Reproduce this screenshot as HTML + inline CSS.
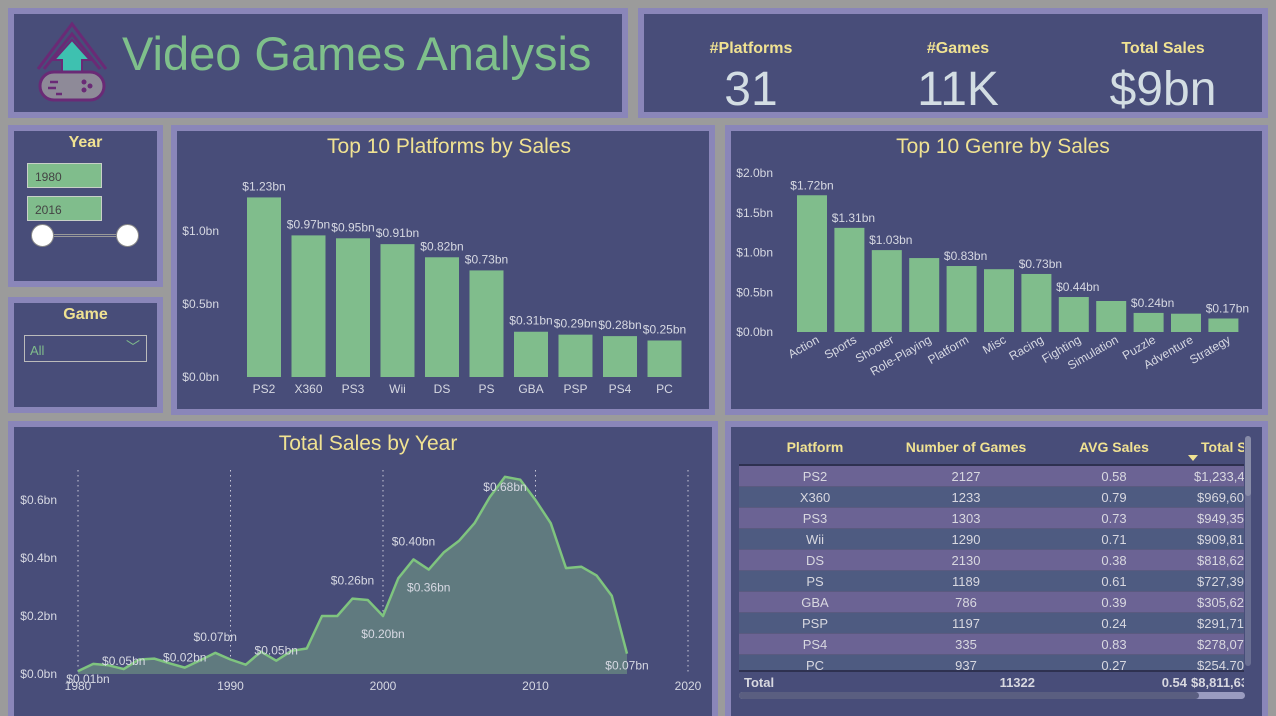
<!DOCTYPE html>
<html><head><meta charset="utf-8">
<style>
*{margin:0;padding:0;box-sizing:border-box}
body{width:1276px;height:716px;background:#9b9b9b;position:relative;overflow:hidden;font-family:"Liberation Sans",sans-serif}
.p{position:absolute;background:#8a86b9}
.in{position:absolute;left:6px;top:6px;right:6px;bottom:6px;background:#484d79}
.t{position:absolute;color:#f0e292;text-align:center;white-space:nowrap}
svg text{font-family:"Liberation Sans",sans-serif}
</style></head><body>
<div class="p" style="left:8px;top:8px;width:620px;height:110px"><div class="in">
<svg width="100" height="100" style="position:absolute;left:20px;top:0">
<path d="M4 55 L38 10 L72 55" fill="none" stroke="#6a2a76" stroke-width="3"/>
<path d="M10 55 L38 20 L66 55" fill="none" stroke="#6a2a76" stroke-width="3"/>
<path d="M38 26 L56 46 L48 46 L48 58 L28 58 L28 46 L20 46 Z" fill="#3ec1b0" stroke="#6a2a76" stroke-width="2"/>
<rect x="6" y="58" width="64" height="28" rx="14" fill="#8e8a98" stroke="#6a2a76" stroke-width="3"/>
<circle cx="56" cy="72" r="2.5" fill="#6a2a76"/><circle cx="50" cy="68" r="2.5" fill="#6a2a76"/><circle cx="50" cy="76" r="2.5" fill="#6a2a76"/>
<path d="M16 68h8M14 74h8M22 80h6" stroke="#6a2a76" stroke-width="2.5"/>
</svg>
<div style="position:absolute;left:108px;top:12px;font-size:47px;color:#7fc08b">Video Games Analysis</div>
</div></div>

<div class="p" style="left:638px;top:8px;width:630px;height:110px"><div class="in">
<div class="t" style="left:47px;width:120px;top:26px;font-size:16px;font-weight:bold">#Platforms</div>
<div class="t" style="left:47px;width:120px;top:48px;font-size:48px;color:#d3dde3">31</div>
<div class="t" style="left:254px;width:120px;top:26px;font-size:16px;font-weight:bold">#Games</div>
<div class="t" style="left:234px;width:160px;top:48px;font-size:48px;color:#d3dde3">11K</div>
<div class="t" style="left:449px;width:140px;top:26px;font-size:16px;font-weight:bold">Total Sales</div>
<div class="t" style="left:439px;width:160px;top:48px;font-size:48px;color:#d3dde3">$9bn</div>
</div></div>

<div class="p" style="left:8px;top:125px;width:155px;height:162px"><div class="in">
<div class="t" style="left:0;right:0;top:3px;font-size:16px;font-weight:bold">Year</div>
<div style="position:absolute;left:13px;top:32px;width:75px;height:25px;background:#80bd8c;border:1px solid #c8d0c8;font-size:12px;color:#444;padding:6px 7px">1980</div>
<div style="position:absolute;left:13px;top:65px;width:75px;height:25px;background:#80bd8c;border:1px solid #c8d0c8;font-size:12px;color:#444;padding:6px 7px">2016</div>
<div style="position:absolute;left:30px;top:103px;width:80px;height:3px;border-top:1px solid #999;border-bottom:1px solid #999"></div>
<div style="position:absolute;left:17px;top:93px;width:23px;height:23px;border-radius:50%;background:#fff;border:1px solid #888"></div>
<div style="position:absolute;left:102px;top:93px;width:23px;height:23px;border-radius:50%;background:#fff;border:1px solid #888"></div>
</div></div>

<div class="p" style="left:8px;top:297px;width:155px;height:116px"><div class="in">
<div class="t" style="left:0;right:0;top:3px;font-size:16px;font-weight:bold">Game</div>
<div style="position:absolute;left:10px;top:32px;width:123px;height:27px;border:1px solid #bbb;color:#80bd8c;font-size:13px;padding:7px 5px">All<span style="position:absolute;right:6px;top:1px;font-size:14px">﹀</span></div>
</div></div>

<div class="p" style="left:171px;top:125px;width:544px;height:290px"><div class="in"></div></div>
<div class="p" style="left:725px;top:125px;width:543px;height:290px"><div class="in"></div></div>
<div class="p" style="left:8px;top:421px;width:710px;height:295px"><div class="in" style="bottom:0"></div></div>
<div class="p" style="left:725px;top:421px;width:543px;height:295px"><div class="in" style="bottom:0"></div></div>

<svg id="charts" width="1276" height="716" style="position:absolute;left:0;top:0"></svg>

<div style="position:absolute;left:739px;top:430px;width:505px;height:260px;overflow:hidden;font-size:13px;color:#d8d8e0">
<div id="thead" style="position:absolute;left:0;top:0;width:560px;height:36px;border-bottom:2px solid #2e3150;color:#f0e292;font-weight:bold;font-size:14px"></div>
<div id="tbody" style="position:absolute;left:0;top:36px;width:560px;height:204px;overflow:hidden"></div>
<div id="tfoot" style="position:absolute;left:0;top:240px;width:560px;height:22px;border-top:2px solid #2e3150;font-weight:bold"></div>
</div>
<div style="position:absolute;left:1245px;top:436px;width:6px;height:230px;background:#6a6f93;border-radius:3px"><div style="height:60px;background:#888ca8;border-radius:3px"></div></div>
<div style="position:absolute;left:739px;top:692px;width:506px;height:7px;background:#9a9cc0;border-radius:4px"><div style="width:460px;height:7px;background:#5a5e80;border-radius:4px"></div></div>

<script>
const NS='http://www.w3.org/2000/svg';
const svg=document.getElementById('charts');
function el(tag,attrs,parent,txt){const e=document.createElementNS(NS,tag);for(const k in attrs)e.setAttribute(k,attrs[k]);if(txt!==undefined)e.textContent=txt;(parent||svg).appendChild(e);return e;}

// Platforms data
const platCats=['PS2','X360','PS3','Wii','DS','PS','GBA','PSP','PS4','PC'];
const platVals=[1.23,0.97,0.95,0.91,0.82,0.73,0.31,0.29,0.28,0.25];
const platTicks=[0,0.5,1.0];
// Genre data
const genreCats=['Action','Sports','Shooter','Role-Playing','Platform','Misc','Racing','Fighting','Simulation','Puzzle','Adventure','Strategy'];
const genreVals=[1.72,1.31,1.03,0.93,0.83,0.79,0.73,0.44,0.39,0.24,0.23,0.17];
const genreLabels=['$1.72bn','$1.31bn','$1.03bn','','$0.83bn','','$0.73bn','$0.44bn','','$0.24bn','','$0.17bn'];
const genreTicks=[0,0.5,1.0,1.5,2.0];
// Yearly data
const years=[1980,1981,1982,1983,1984,1985,1986,1987,1988,1989,1990,1991,1992,1993,1994,1995,1996,1997,1998,1999,2000,2001,2002,2003,2004,2005,2006,2007,2008,2009,2010,2011,2012,2013,2014,2015,2016];
const yearVals=[0.01,0.035,0.03,0.017,0.05,0.053,0.037,0.022,0.047,0.073,0.05,0.032,0.077,0.046,0.08,0.088,0.20,0.20,0.26,0.255,0.20,0.33,0.395,0.36,0.42,0.46,0.52,0.61,0.68,0.67,0.60,0.52,0.365,0.37,0.34,0.27,0.07];
const yearLabelIdx=[0,3,7,9,13,18,20,22,23,28,36];
const yearLabelTxt=['$0.01bn','$0.05bn','$0.02bn','$0.07bn','$0.05bn','$0.26bn','$0.20bn','$0.40bn','$0.36bn','$0.68bn','$0.07bn'];
const yearLabelDy=[12,0,-2,-8,-2,-10,22,-10,22,14,16];
const yearTicksY=[0,0.2,0.4,0.6];
const yearTicksX=[1980,1990,2000,2010,2020];
// Table data
const tPlat=['PS2','X360','PS3','Wii','DS','PS','GBA','PSP','PS4','PC'];
const tGames=[2127,1233,1303,1290,2130,1189,786,1197,335,937];
const tAvg=['0.58','0.79','0.73','0.71','0.38','0.61','0.39','0.24','0.83','0.27'];
const tTotal=['$1,233,460','$969,600','$949,350','$909,810','$818,620','$727,390','$305,620','$291,710','$278,070','$254,700'];

const Y='#f0e292',G='#80bd8c',L='#d6d8e2';

// ---- platform chart
(function(){
 el('text',{x:449,y:153,'text-anchor':'middle','font-size':21,fill:Y,},svg,'Top 10 Platforms by Sales');
 const y=v=>377-v*146, x=i=>264+i*44.5;
 platTicks.forEach(t=>{const e=el('text',{x:219,y:y(t)+4,'text-anchor':'end','font-size':12,fill:L},svg,'$'+t.toFixed(1)+'bn');
  });
 platCats.forEach((c,i)=>{
  const r=el('rect',{x:x(i)-17,y:y(platVals[i]),width:34,height:platVals[i]*146,fill:G});
  
  const l=el('text',{x:x(i),y:y(platVals[i])-7,'text-anchor':'middle','font-size':12,fill:L},svg,'$'+platVals[i].toFixed(2)+'bn');
  
  const c2=el('text',{x:x(i),y:393,'text-anchor':'middle','font-size':12,fill:L},svg,c);
  
 });
})();

// ---- genre chart
(function(){
 el('text',{x:1003,y:153,'text-anchor':'middle','font-size':21,fill:Y,},svg,'Top 10 Genre by Sales');
 const y=v=>332-v*79.5, x=i=>812+i*37.4;
 genreTicks.forEach(t=>{const e=el('text',{x:773,y:y(t)+4,'text-anchor':'end','font-size':12,fill:L},svg,'$'+t.toFixed(1)+'bn');
  });
 genreCats.forEach((c,i)=>{
  const r=el('rect',{x:x(i)-15,y:y(genreVals[i]),width:30,height:genreVals[i]*79.5,fill:G});
  
  if(genreLabels[i]){const l=el('text',{x:x(i)+(i?4:0),y:y(genreVals[i])-6,'text-anchor':'middle','font-size':12,fill:L},svg,genreLabels[i]);
   }
  const c2=el('text',{x:x(i)+8,y:342,'text-anchor':'end','font-size':12,fill:L,transform:`rotate(-30 ${x(i)+8} 342)`},svg,c);
  
 });
})();

// ---- yearly area chart
(function(){
 el('text',{x:368,y:450,'text-anchor':'middle','font-size':21,fill:Y,},svg,'Total Sales by Year');
 const y=v=>674-v*290, x=yr=>78+(yr-1980)*15.25;
 yearTicksX.forEach(t=>{
  const g=el('line',{x1:x(t),x2:x(t),y1:470,y2:674,stroke:'#c8c8d8','stroke-dasharray':'1.5 3.5','stroke-width':1});
  
  const e=el('text',{x:x(t),y:690,'text-anchor':'middle','font-size':12,fill:L},svg,t);
  });
 yearTicksY.forEach(t=>{const e=el('text',{x:57,y:y(t)+4,'text-anchor':'end','font-size':12,fill:L},svg,'$'+t.toFixed(1)+'bn');
  });
 let d='';years.forEach((yr,i)=>{d+=(i?'L':'M')+x(yr)+' '+y(yearVals[i]);});
 const a=el('path',{d:d+`L${x(years[years.length-1])} 674L${x(years[0])} 674Z`,fill:'#607a7f'});
 
 const ln=el('path',{d:d,fill:'none',stroke:'#7fc47f','stroke-width':2.5,'stroke-linejoin':'round'});
 
 yearLabelIdx.forEach((idx,k)=>{
  const e=el('text',{x:x(years[idx])+(idx===0?10:0),y:y(yearVals[idx])+yearLabelDy[k]-(yearLabelDy[k]<=0?4:0),'text-anchor':'middle','font-size':12,fill:L},svg,yearLabelTxt[k]);
  });
})();

// ---- table
(function(){
 const cols=[[0,152,'center'],[152,150,'center'],[300,150,'center'],[450,110,'left']];
 const th=document.getElementById('thead');
 ['Platform','Number of Games','AVG Sales','Total Sales'].forEach((h,i)=>{
  const d=document.createElement('div');d.textContent=h;
  
  d.style.cssText=`position:absolute;left:${cols[i][0]}px;width:${cols[i][1]}px;top:9px;text-align:${i==3?'left':'center'};${i==3?'padding-left:12px':''}`;
  th.appendChild(d);});
 const ar=document.createElement('div');ar.style.cssText='position:absolute;left:449px;top:25px;width:0;height:0;border-left:5px solid transparent;border-right:5px solid transparent;border-top:6px solid #f0e292';th.appendChild(ar);
 const tb=document.getElementById('tbody');
 tPlat.forEach((p,r)=>{
  const row=document.createElement('div');
  
  row.style.cssText=`position:relative;height:21px;background:${r%2?'#4e5b81':'#6b6394'};border-bottom:1px solid #5a5a80`;
  [p,tGames[r],tAvg[r],tTotal[r]].forEach((v,i)=>{const c=document.createElement('div');c.textContent=v;
   c.style.cssText=`position:absolute;left:${cols[i][0]}px;width:${cols[i][1]}px;top:3px;text-align:${i==3?'left':'center'};${i==3?'padding-left:'+(r==0?5:8)+'px':''}`;row.appendChild(c);});
  tb.appendChild(row);});
 const tf=document.getElementById('tfoot');
 tf.innerHTML='<div style="position:absolute;left:5px;top:3px">Total</div><div style="position:absolute;left:200px;width:96px;top:3px;text-align:right">11322</div><div style="position:absolute;left:380px;width:68px;top:3px;text-align:right">0.54</div><div style="position:absolute;left:452px;top:3px">$8,811,630</div>';
 
})();
</script>
</body></html>
